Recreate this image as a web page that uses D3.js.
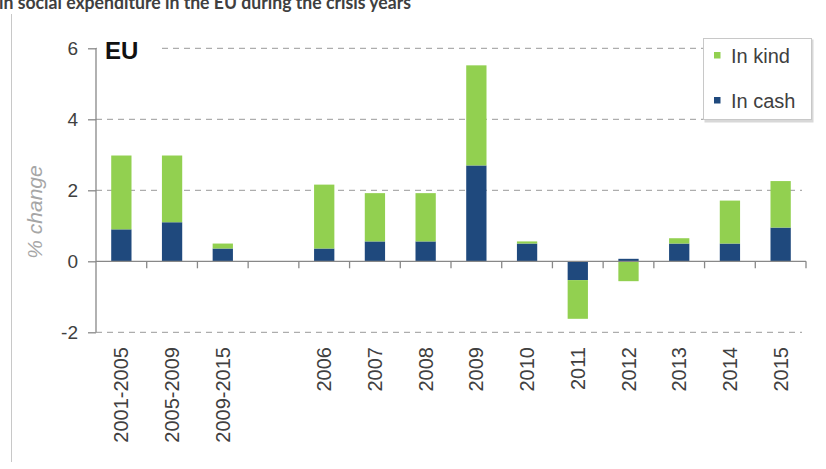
<!DOCTYPE html>
<html>
  <head>
    <meta charset="utf-8">
    <style>
      body { margin: 0; background: #fff; }
      svg { display: block; font-family: "Liberation Sans", Arial, sans-serif; }
      .grid line { stroke: #999; stroke-width: 1px; stroke-dasharray: 6,5; }
      .axis path, .axis line { stroke: #888; stroke-width: 1.3px; fill: none; }
      .tick-label { fill: #404040; }
    </style>
  </head>
  <body>
    <svg></svg>
    <script src="https://cdnjs.cloudflare.com/ajax/libs/d3/7.8.5/d3.min.js"></script>
    <script>
      // categories (the blank one is the gap between periods and single years)
      var categories = ["2001-2005", "2005-2009", "2009-2015", "",
                        "2006", "2007", "2008", "2009", "2010",
                        "2011", "2012", "2013", "2014", "2015"];
      var inCash = [0.90, 1.10, 0.36, null, 0.36, 0.56, 0.56, 2.70, 0.50,
                    -0.53, 0.07, 0.50, 0.50, 0.95];
      var inKind = [2.08, 1.88, 0.14, null, 1.80, 1.36, 1.36, 2.82, 0.06,
                    -1.09, -0.56, 0.15, 1.21, 1.31];
      var yTicks = [-2, 0, 2, 4, 6];
      var seriesNames = ["In cash", "In kind"];
      var seriesColors = {"In cash": "#1f497d", "In kind": "#92d050"};

      var width = 826, height = 469;
      var svg = d3.select("svg").attr("width", width).attr("height", height);

      var x = d3.scaleBand().domain(categories).range([96, 806]).padding(0);
      var y = d3.scaleLinear().domain([-2, 6]).range([332.3, 48.3]);

      var rows = categories.map(function(c, i) {
        return {cat: c, "In cash": inCash[i] || 0, "In kind": inKind[i] || 0};
      });
      var stacked = d3.stack().keys(seriesNames)
                      .offset(d3.stackOffsetDiverging)(rows);

      // title, cut at the top like the source
      svg.append("text")
         .attr("x", -1).attr("y", 9)
         .attr("textLength", 412).attr("lengthAdjust", "spacingAndGlyphs")
         .style("font-family", "Lato, 'Open Sans', sans-serif")
         .style("font-weight", "bold").style("font-size", "19px")
         .style("fill", "#404040")
         .text("in social expenditure in the EU during the crisis years");

      // frame line on the left
      svg.append("line")
         .attr("x1", 11.5).attr("x2", 11.5).attr("y1", 14).attr("y2", 462)
         .style("stroke", "#c8c8c8").style("stroke-width", 1);

      // gridlines
      svg.append("g").attr("class", "grid")
         .selectAll("line").data(yTicks.filter(function(d) { return d !== 0; }))
         .enter().append("line")
         .attr("x1", 96).attr("x2", 802)
         .attr("y1", function(d) { return y(d); })
         .attr("y2", function(d) { return y(d); });

      // y axis
      var yAxis = svg.append("g").attr("class", "axis")
         .attr("transform", "translate(96,0)")
         .call(d3.axisLeft(y).tickValues(yTicks).tickSize(8).tickPadding(10)
               .tickFormat(function(d) { return String(d); }));
      yAxis.select(".domain").attr("d", "M0," + y(-2) + "V" + y(6));
      yAxis.selectAll(".tick text").attr("class", "tick-label")
           .style("font-size", "19px").style("font-family", "'Liberation Sans', Arial, sans-serif");

      // bars
      var barW = x.bandwidth() * 0.4;
      svg.append("g").selectAll("g").data(stacked).enter().append("g")
         .style("fill", function(s) { return seriesColors[s.key]; })
         .selectAll("rect").data(function(s) { return s; })
         .enter().append("rect")
         .attr("x", function(d) { return x(d.data.cat) + (x.bandwidth() - barW) / 2; })
         .attr("width", barW)
         .attr("y", function(d) { return y(Math.max(d[0], d[1])); })
         .attr("height", function(d) { return Math.abs(y(d[0]) - y(d[1])); });

      // x axis at zero with ticks between categories
      var xAxis = svg.append("g").attr("class", "axis");
      xAxis.append("line")
           .attr("x1", 96).attr("x2", 806)
           .attr("y1", y(0)).attr("y2", y(0));
      xAxis.selectAll(".xtick").data(categories).enter().append("line")
           .attr("class", "xtick")
           .attr("x1", function(d) { return x(d) + x.bandwidth(); })
           .attr("x2", function(d) { return x(d) + x.bandwidth(); })
           .attr("y1", y(0)).attr("y2", y(0) + 7);

      // category labels, rotated
      svg.append("g").selectAll("text").data(categories).enter().append("text")
         .attr("class", "tick-label")
         .attr("transform", function(d) {
           return "translate(" + (x(d) + x.bandwidth() / 2 + 7) + ",347)rotate(-90)";
         })
         .attr("text-anchor", "end")
         .style("font-size", "20px")
         .text(function(d) { return d; });

      // y title
      svg.append("text")
         .attr("transform", "translate(42,212)rotate(-90)")
         .attr("text-anchor", "middle")
         .style("font-size", "21px").style("font-style", "italic")
         .style("fill", "#a6a6a6")
         .text("% change");

      // EU label box
      svg.append("rect").attr("x", 97).attr("y", 34).attr("width", 60).attr("height", 38)
         .style("fill", "#fff");
      svg.append("text").attr("x", 105).attr("y", 59)
         .style("font-size", "24px").style("font-weight", "bold").style("fill", "#111")
         .text("EU");

      // legend
      var legend = svg.append("g").attr("transform", "translate(703,38)");
      legend.append("rect").attr("x", 1.5).attr("y", 1.5).attr("width", 109).attr("height", 83)
            .style("fill", "#d8d8d8");
      legend.append("rect").attr("x", 0.5).attr("y", 0.5).attr("width", 108).attr("height", 81)
            .style("fill", "#fff").style("stroke", "#c8c8c8");
      var legendItems = ["In kind", "In cash"];
      var li = legend.selectAll(".li").data(legendItems).enter().append("g")
            .attr("transform", function(d, i) { return "translate(11," + (14 + i * 45) + ")"; });
      li.append("rect").attr("width", 6.5).attr("height", 6.5)
        .style("fill", function(d) { return seriesColors[d]; });
      li.append("text").attr("x", 17).attr("y", 11)
        .style("font-size", "20px").style("fill", "#404040")
        .text(function(d) { return d; });
    </script>
  </body>
</html>
